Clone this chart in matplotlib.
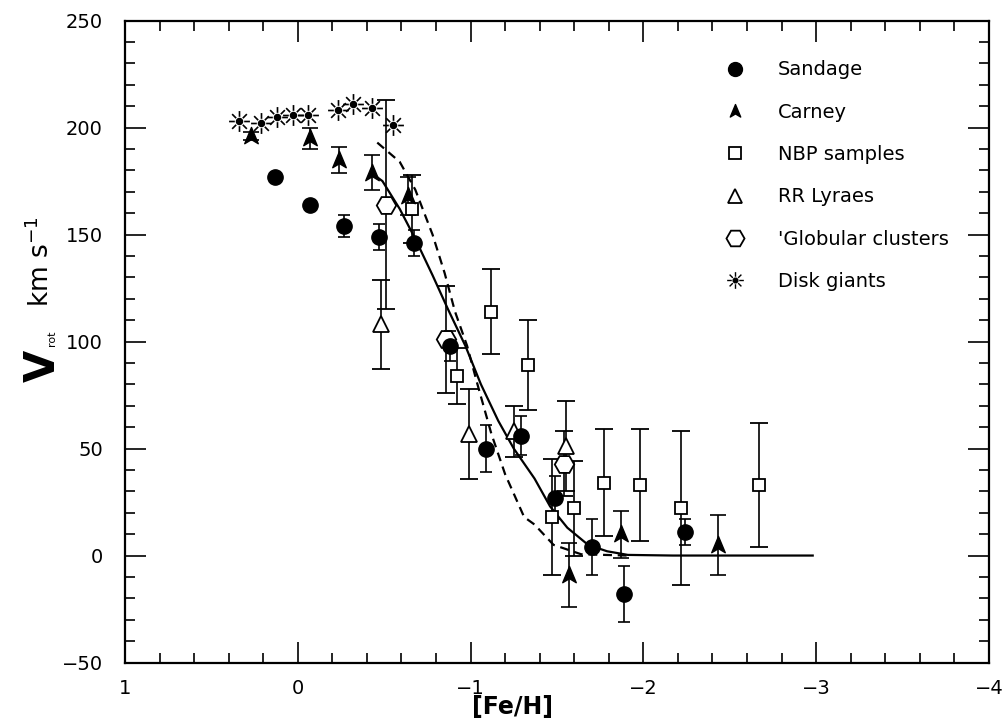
import numpy as np
import matplotlib
matplotlib.use("Agg")
import matplotlib.pyplot as plt
from matplotlib.path import Path
from matplotlib.lines import Line2D
from matplotlib.ticker import MultipleLocator

# rotation velocity vs metallicity, by sample
sandage_feh = [0.13, -0.07, -0.27, -0.47, -0.67, -0.88, -1.09, -1.29, -1.49, -1.70, -1.89, -2.24]
sandage_v = [177, 164, 154, 149, 146, 98, 50, 56, 27, 4, -18, 11]
sandage_err = [0, 0, 5, 6, 6, 7, 11, 9, 10, 13, 13, 6]

carney_feh = [0.27, -0.07, -0.24, -0.43, -0.64, -1.57, -1.87, -2.43]
carney_v = [196, 195, 185, 179, 168, -9, 10, 5]
carney_err = [2, 5, 6, 8, 9, 15, 11, 14]

nbp_feh = [-0.66, -0.92, -1.12, -1.33, -1.47, -1.60, -1.77, -1.98, -2.22, -2.67]
nbp_v = [162, 84, 114, 89, 18, 22, 34, 33, 22, 33]
nbp_err = [16, 13, 20, 21, 27, 22, 25, 26, 36, 29]

rr_feh = [-0.48, -0.99, -1.25, -1.55]
rr_v = [108, 57, 58, 51]
rr_err = [21, 21, 12, 21]

gc_feh = [-0.51, -0.86, -1.54]
gc_v = [164, 101, 43]
gc_err = [49, 25, 15]

giants_feh = [0.34, 0.21, 0.12, 0.03, -0.06, -0.23, -0.32, -0.43, -0.55]
giants_v = [203, 202, 205, 206, 206, 208, 211, 209, 201]

# model curves
solid_feh = [-0.44, -0.49, -0.59, -0.68, -0.78, -0.87, -0.97, -1.06, -1.16, -1.25,
             -1.37, -1.46, -1.56, -1.68, -1.79, -1.91, -2.17, -2.98]
solid_v = [178, 175, 162, 148, 131, 115, 98, 80, 63, 50, 36, 23, 13, 5, 2, 0.3, 0, 0]

dashed_feh = [-0.46, -0.59, -0.68, -0.78, -0.85, -0.91, -0.98, -1.04, -1.12, -1.20,
              -1.31, -1.37, -1.48, -1.64, -1.91]
dashed_v = [193, 184, 171, 150, 132, 114, 98, 80, 57, 38, 18, 14.5, 5, 0.6, 0]

labels = ['Sandage', 'Carney', 'NBP samples', 'RR Lyraes', "'Globular clusters", 'Disk giants']

# arrowhead marker for Carney
arrow = Path([(0, 1), (0.75, -0.8), (0, -0.35), (-0.75, -0.8), (0, 1)],
             [Path.MOVETO, Path.LINETO, Path.LINETO, Path.LINETO, Path.CLOSEPOLY])

# starburst marker for disk giants: eight rays around a dot
ang = np.arange(8) * np.pi / 4
rays = []
for a in ang:
    rays.append(Path([(0.45 * np.cos(a), 0.45 * np.sin(a)), (np.cos(a), np.sin(a))],
                     [Path.MOVETO, Path.LINETO]))
star = Path.make_compound_path(Path.circle(radius=0.28), *rays)

fig = plt.figure(figsize=(10.03, 7.21), dpi=100)
ax = fig.add_axes([0.1246, 0.0811, 0.8614, 0.8903])

ax.plot(solid_feh, solid_v, color='black', lw=1.6, zorder=2)
ax.plot(dashed_feh, dashed_v, color='black', lw=1.6, ls=(0, (4, 2.6)), zorder=2)

eb = dict(linestyle='none', ecolor='black', elinewidth=1.2, capthick=1.2, zorder=3)
ax.errorbar(nbp_feh, nbp_v, yerr=nbp_err, marker='s', ms=9, mfc='white', mec='black',
            mew=1.3, capsize=6.5, **eb)
ax.errorbar(rr_feh, rr_v, yerr=rr_err, marker='^', ms=11, mfc='white', mec='black',
            mew=1.3, capsize=6.5, **eb)
ax.errorbar(gc_feh, gc_v, yerr=gc_err, marker='H', ms=14, mfc='white', mec='black',
            mew=1.3, capsize=6.5, **eb)
ax.errorbar(carney_feh, carney_v, yerr=carney_err, marker=arrow, ms=13, mfc='black',
            mec='black', capsize=6, **eb)
ax.errorbar(sandage_feh, sandage_v, yerr=sandage_err, marker='o', ms=11, mfc='black',
            mec='black', capsize=4.5, **eb)
ax.plot(giants_feh, giants_v, linestyle='none', marker=star, ms=15, mfc='black',
        mec='black', mew=1.2, zorder=4)

ax.set_xlim(1, -4)
ax.set_ylim(-50, 250)
ax.xaxis.set_major_locator(MultipleLocator(1))
ax.xaxis.set_minor_locator(MultipleLocator(0.2))
ax.yaxis.set_major_locator(MultipleLocator(50))
ax.yaxis.set_minor_locator(MultipleLocator(10))
ax.tick_params(which='both', direction='in', top=True, right=True, width=1.2,
               labelsize=14, colors='black')
ax.tick_params(which='major', length=15)
ax.tick_params(which='minor', length=7)
ax.tick_params(axis='x', pad=12)
ax.tick_params(axis='y', pad=16)
for s in ax.spines.values():
    s.set_linewidth(1.6)

ax.set_xlabel('[Fe/H]', fontsize=17, fontweight='bold')
ax.xaxis.set_label_coords(0.448, -0.05)

# y label: large V with a small "rot" subscript, then the units
ax.text(-0.095, 0.462, 'V', transform=ax.transAxes, rotation=90, fontsize=30,
        fontweight='bold', ha='center', va='center')
ax.text(-0.084, 0.505, 'rot', transform=ax.transAxes, rotation=90, fontsize=8,
        ha='center', va='center')
ax.text(-0.097, 0.625, r'km s$^{-1}$', transform=ax.transAxes,
        rotation=90, fontsize=19, ha='center', va='center')

handles = [
    Line2D([], [], ls='none', marker='o', ms=10, mfc='black', mec='black'),
    Line2D([], [], ls='none', marker=arrow, ms=10, mfc='black', mec='black'),
    Line2D([], [], ls='none', marker='s', ms=9, mfc='white', mec='black', mew=1.3),
    Line2D([], [], ls='none', marker='^', ms=10, mfc='white', mec='black', mew=1.3),
    Line2D([], [], ls='none', marker='H', ms=13, mfc='white', mec='black', mew=1.3),
    Line2D([], [], ls='none', marker=star, ms=12, mfc='black', mec='black', mew=1.0),
]
ax.legend(handles, labels, loc='upper left', bbox_to_anchor=(0.695, 0.938),
          frameon=False, fontsize=14, labelspacing=1.2, handlelength=1.0,
          handletextpad=1.71, borderpad=0, borderaxespad=0)

fig.savefig('out.png', dpi=100)
